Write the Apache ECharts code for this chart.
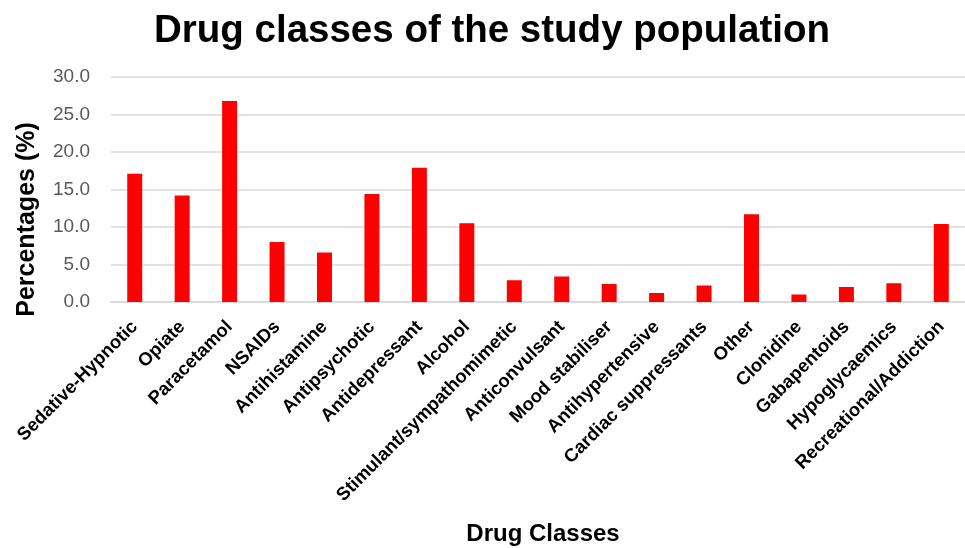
<!DOCTYPE html>
<html>
<head>
<meta charset="utf-8">
<script src="https://cdn.jsdelivr.net/npm/echarts@6/dist/echarts.min.js"></script>
<style>
  html, body { margin: 0; padding: 0; background: #fff; }
  #chart { width: 965px; height: 548px; }
</style>
</head>
<body>
<div id="chart"></div>
<script>
// drug classes and their share of the study population (%)
const drugClasses = [
  "Sedative-Hypnotic", "Opiate", "Paracetamol", "NSAIDs", "Antihistamine",
  "Antipsychotic", "Antidepressant", "Alcohol", "Stimulant/sympathomimetic",
  "Anticonvulsant", "Mood stabiliser", "Antihypertensive", "Cardiac suppressants",
  "Other", "Clonidine", "Gabapentoids", "Hypoglycaemics", "Recreational/Addiction"
];
const percentages = [
  17.1, 14.2, 26.8, 8.0, 6.6,
  14.4, 17.9, 10.5, 2.9,
  3.4, 2.4, 1.2, 2.2,
  11.7, 1.0, 2.0, 2.5, 10.4
];

const myChart = echarts.init(document.getElementById("chart"));
const option = {
  backgroundColor: "#fff",
  title: {
    text: "Drug classes of the study population",
    left: 149,
    top: 7,
    textStyle: {
      fontFamily: "Liberation Sans, Arial",
      fontWeight: "bold",
      fontSize: 38.5,
      color: "#000"
    }
  },
  grid: {
    left: 111,
    top: 77,
    width: 862,
    height: 225
  },
  xAxis: {
    type: "category",
    data: drugClasses,
    name: "Drug Classes",
    nameLocation: "middle",
    nameGap: 220,
    nameTextStyle: {
      fontFamily: "Liberation Sans, Arial",
      fontWeight: "bold",
      fontSize: 24,
      color: "#000",
      padding: [0, 0, 0, 10]
    },
    axisLine: { lineStyle: { color: "#d9d9d9", width: 1.5 } },
    axisTick: { show: false },
    axisLabel: {
      interval: 0,
      rotate: 45,
      margin: 22,
      fontFamily: "Liberation Sans, Arial",
      fontWeight: "bold",
      fontSize: 18.5,
      color: "#000"
    }
  },
  yAxis: {
    type: "value",
    min: 0,
    max: 30,
    interval: 5,
    name: "Percentages (%)",
    nameLocation: "middle",
    nameGap: 71,
    nameTextStyle: {
      fontFamily: "Liberation Sans, Arial",
      fontWeight: "bold",
      fontSize: 25,
      color: "#000",
      padding: [0, 60, 0, 0]
    },
    axisLine: { show: false },
    axisTick: { show: false },
    axisLabel: {
      margin: 21,
      fontFamily: "Liberation Sans, Arial",
      fontSize: 19,
      color: "#595959",
      formatter: function (v) { return v.toFixed(1); }
    },
    splitLine: { lineStyle: { color: "#d9d9d9", width: 1.5 } }
  },
  series: [
    {
      type: "bar",
      data: percentages,
      barWidth: 15,
      itemStyle: { color: "#ff0000" }
    }
  ]
};
myChart.setOption(option);
</script>
</body>
</html>
